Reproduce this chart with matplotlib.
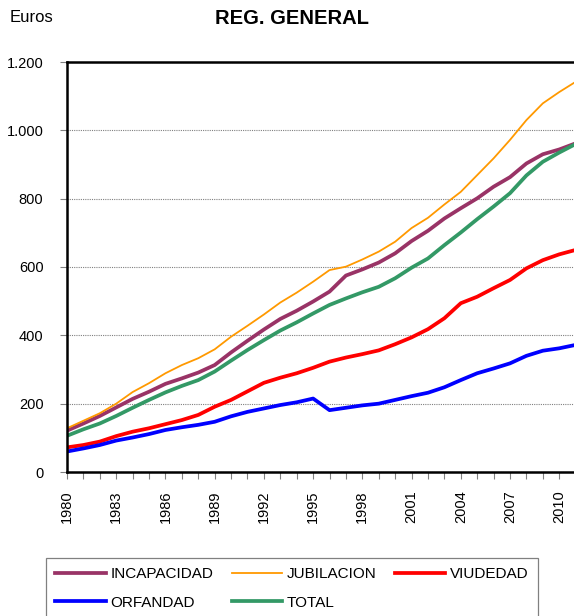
import numpy as np
import matplotlib
matplotlib.use('Agg')
import matplotlib.pyplot as plt
from matplotlib.ticker import MultipleLocator, FuncFormatter

plt.rcParams['font.family'] = ['Liberation Sans', 'DejaVu Sans']

years = list(range(1980, 2012))

incapacidad = [121, 142, 164, 189, 214, 235, 258, 274, 291, 313, 350, 384, 417, 448, 472, 499,
               528, 575, 593, 613, 640, 676, 706, 742, 772, 801, 835, 863, 903, 930, 944, 962]
jubilacion = [128, 150, 172, 200, 234, 260, 289, 313, 333, 359, 396, 428, 461, 496, 525, 557,
              591, 601, 622, 645, 674, 714, 744, 783, 820, 869, 918, 972, 1030, 1079, 1112, 1142]
viudedad = [72, 79, 89, 105, 118, 128, 140, 152, 167, 191, 211, 236, 261, 276, 289, 305,
            323, 335, 345, 356, 374, 394, 418, 450, 494, 513, 538, 562, 596, 620, 637, 650]
orfandad = [60, 69, 79, 92, 101, 111, 123, 131, 138, 147, 163, 176, 186, 196, 204, 215,
            181, 188, 195, 200, 211, 222, 232, 248, 269, 289, 303, 318, 340, 355, 362, 372]
total = [106, 125, 142, 164, 188, 211, 233, 252, 269, 294, 326, 357, 386, 414, 438, 464,
         489, 508, 526, 542, 567, 598, 625, 664, 701, 740, 777, 816, 868, 908, 935, 960]

fig = plt.figure(figsize=(5.74, 6.16), dpi=100)
ax = fig.add_axes([67 / 574, 144 / 616, 507 / 574, 410 / 616])

ax.yaxis.grid(True, color='#808080', linestyle=(0, (1, 1)), linewidth=0.8)
ax.set_axisbelow(True)

l_inc, = ax.plot(years, incapacidad, color='#993366', lw=2.7, label='INCAPACIDAD')
l_jub, = ax.plot(years, jubilacion, color='#FF9900', lw=1.3, label='JUBILACION')
l_viu, = ax.plot(years, viudedad, color='#FF0000', lw=2.7, label='VIUDEDAD')
l_orf, = ax.plot(years, orfandad, color='#0000FF', lw=2.7, label='ORFANDAD')
l_tot, = ax.plot(years, total, color='#339966', lw=2.7, label='TOTAL')

ax.set_xlim(1980, 2010.9)
ax.set_ylim(0, 1200)
ax.yaxis.set_major_locator(MultipleLocator(200))
ax.yaxis.set_major_formatter(FuncFormatter(lambda v, p: f"{int(v):,}".replace(',', '.')))
ax.set_xticks(range(1980, 2011, 3))
ax.set_xticklabels([str(y) for y in range(1980, 2011, 3)], rotation=90)
ax.xaxis.set_minor_locator(MultipleLocator(1))

for side in ['left', 'bottom', 'top']:
    ax.spines[side].set_linewidth(1.8)
    ax.spines[side].set_color('black')
ax.spines['right'].set_visible(False)

ax.tick_params(axis='both', which='both', direction='out', color='#808080',
               labelsize=10.5, width=0.8)
ax.tick_params(axis='y', length=5, pad=12)
ax.tick_params(axis='x', which='both', length=5, pad=8)

fig.text(10 / 574, 1 - 18 / 616, 'Euros', fontsize=12, va='center', ha='left')
fig.text(292 / 574, 1 - 18 / 616, 'REG. GENERAL', fontsize=14.5, fontweight='bold',
         va='center', ha='center')

# row-major order like the original legend (3 columns)
handles = [l_inc, l_orf, l_jub, l_tot, l_viu]
leg = fig.legend(handles=handles, labels=[h.get_label() for h in handles],
                 ncol=3, loc='upper left', borderaxespad=0,
                 bbox_to_anchor=(46 / 574, 1 - 558 / 616),
                 fontsize=11, handlelength=3.3, handletextpad=0.33,
                 columnspacing=1.18, labelspacing=0.95, borderpad=0.6,
                 fancybox=False, edgecolor='#808080', framealpha=1)
leg.get_frame().set_linewidth(0.9)

fig.savefig('out.png', dpi=100)
